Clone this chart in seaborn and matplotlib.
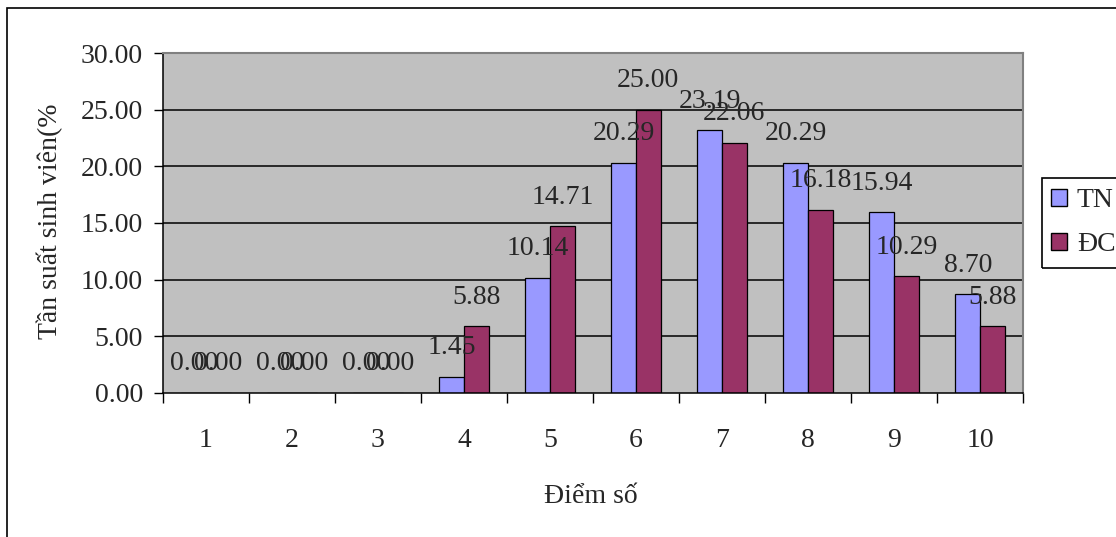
import matplotlib
matplotlib.use("Agg")
import matplotlib.pyplot as plt
import matplotlib.patches as mpatches
import seaborn as sns
import pandas as pd

# ---- data ----
scores = ["1", "2", "3", "4", "5", "6", "7", "8", "9", "10"]
tn_values = [0.00, 0.00, 0.00, 1.45, 10.14, 20.29, 23.19, 20.29, 15.94, 8.70]
dc_values = [0.00, 0.00, 0.00, 5.88, 14.71, 25.00, 22.06, 16.18, 10.29, 5.88]
series_names = ["TN", "ĐC"]
y_ticks = [0, 5, 10, 15, 20, 25, 30]
x_title = "Điểm số"
y_title = "Tần suất sinh viên(%"

colors = ["#9999FF", "#993366"]
W, H = 1116, 537
FS = 20
FAMILY = ["Liberation Serif", "DejaVu Serif"]

sns.set_theme(style="white")
plt.rcParams["font.family"] = FAMILY
plt.rcParams["font.size"] = FS

df = pd.DataFrame({
    "score": scores * 2,
    "value": tn_values + dc_values,
    "group": [series_names[0]] * len(scores) + [series_names[1]] * len(scores),
})

fig = plt.figure(figsize=(W / 100, H / 100), dpi=100)
fig.patch.set_facecolor("white")

# plot area in pixel coordinates
px_l, px_r, px_t, px_b = 163, 1023, 53, 393
ax = fig.add_axes([px_l / W, (H - px_b) / H, (px_r - px_l) / W, (px_b - px_t) / H])
ax.set_facecolor("#C0C0C0")

sns.barplot(data=df, x="score", y="value", hue="group", order=scores,
            hue_order=series_names, palette=colors, width=0.572,
            edgecolor="black", linewidth=0.9, saturation=1, ax=ax,
            legend=False, errorbar=None)

ax.set_xlim(-0.5, len(scores) - 0.5)
ax.set_ylim(0, 30)
ax.set_yticks(y_ticks)
ax.set_yticklabels([f"{v:.2f}" for v in y_ticks], fontsize=FS)
for v in y_ticks[1:-1]:
    ax.axhline(v, color="black", lw=1.1, zorder=0.5)
ax.set_axisbelow(True)

# category ticks at boundaries, labels at centers
ax.set_xticks(range(len(scores)))
ax.set_xticklabels(scores, fontsize=FS)
ax.set_xticks([i - 0.5 for i in range(len(scores) + 1)], minor=True)
ax.tick_params(axis="x", which="major", length=0, pad=25)
ax.tick_params(axis="x", which="minor", length=7, width=1, color="black", direction="out", bottom=True)
ax.tick_params(axis="y", which="major", length=6.5, width=1, color="black", direction="out", left=True, pad=8)
ax.set_xlabel("")
ax.set_ylabel("")

for side in ["left", "bottom"]:
    ax.spines[side].set_color("black")
    ax.spines[side].set_linewidth(1.1)
for side in ["top", "right"]:
    ax.spines[side].set_color("#808080")
    ax.spines[side].set_linewidth(1.5)

for cont in ax.containers:
    ax.bar_label(cont, fmt="%.2f", padding=12, fontsize=FS)

# axis titles
fig.text(591 / W, (H - 503) / H, x_title, ha="center", va="baseline", fontsize=FS)
fig.text(50 / W, (H - 221) / H, y_title, ha="center", va="center", rotation=90, fontsize=FS)

# legend
handles = [mpatches.Patch(facecolor=c, edgecolor="black", linewidth=1.0) for c in colors]
fig.legend(handles, series_names, loc="upper left",
           bbox_to_anchor=(1051 / W, (H - 188) / H), frameon=False,
           fontsize=FS, handlelength=0.58, handleheight=0.58, handletextpad=0.35,
           labelspacing=0.7, borderpad=0, borderaxespad=0)
fig.patches.append(mpatches.Rectangle((1042 / W, (H - 268) / H), 120 / W, 90 / H,
                                      transform=fig.transFigure, fill=False,
                                      edgecolor="black", linewidth=1.2))
# chart area border
fig.patches.append(mpatches.Rectangle((7 / W, -0.1), 1.2, (H - 8) / H + 0.1,
                                      transform=fig.transFigure, fill=False,
                                      edgecolor="black", linewidth=1.2))

fig.savefig("out.png", dpi=100, facecolor="white")
